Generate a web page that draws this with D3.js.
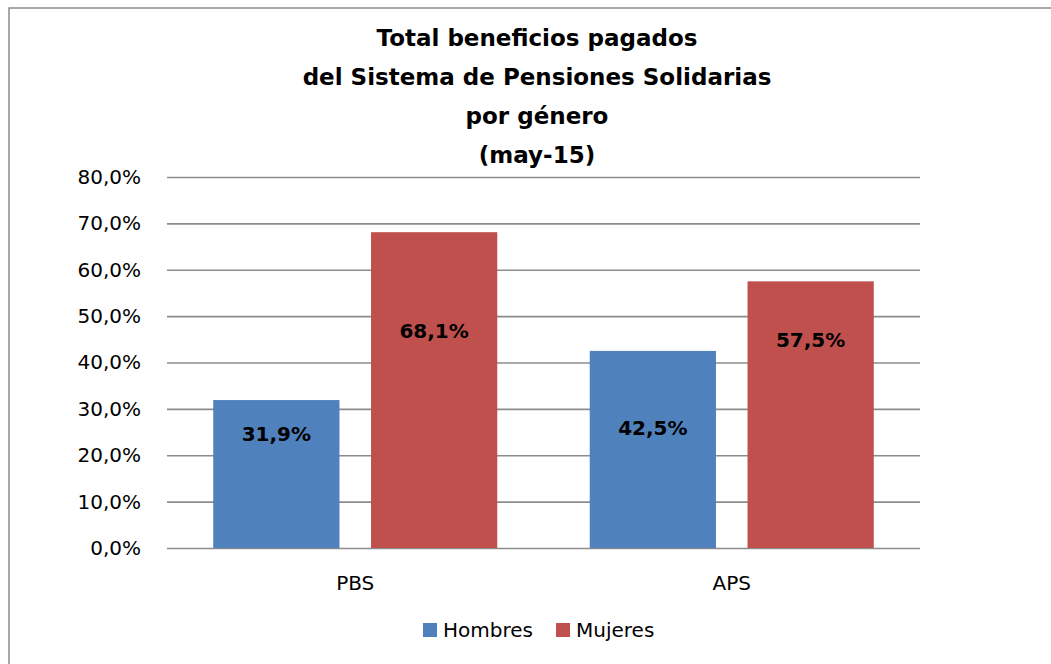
<!DOCTYPE html>
<html>
<head>
<meta charset="utf-8">
<script src="https://cdn.jsdelivr.net/npm/d3@7"></script>
<style>
  body { margin: 0; background: #fff; }
  svg { display: block; font-family: "DejaVu Sans", sans-serif; }
</style>
</head>
<body>
<svg width="1051" height="664"></svg>
<script>
// data
const categories = ["PBS", "APS"];
const series = ["Hombres", "Mujeres"];
const hombres = [31.9, 42.5];
const mujeres = [68.1, 57.5];
const yTicks = [0, 10, 20, 30, 40, 50, 60, 70, 80];
const titleLines = ["Total beneficios pagados", "del Sistema de Pensiones Solidarias", "por género", "(may-15)"];
// where the value labels sit inside each bar (label centre, in axis units)
const labelAt = { Hombres: [24.6, 25.8], Mujeres: [46.8, 44.9] };

const colors = { Hombres: "#4F81BD", Mujeres: "#C0504D" };

const svg = d3.select("svg"),
    width = +svg.attr("width"),
    height = +svg.attr("height");

const plot = { left: 167, right: 920, top: 177, bottom: 548 };

// outer frame (runs off the right and bottom edge)
svg.append("rect")
    .attr("x", 9).attr("y", 8)
    .attr("width", width + 20).attr("height", height + 20)
    .attr("fill", "none")
    .attr("stroke", "#8c8c8c")
    .attr("stroke-width", 1.5);

const x0 = d3.scaleBand()
    .domain(categories)
    .range([plot.left, plot.right]);

const x1 = d3.scaleBand()
    .domain(series)
    .range([0, x0.bandwidth()])
    .paddingInner(0.2)
    .paddingOuter(0.293);

const y = d3.scaleLinear()
    .domain([0, 80])
    .range([plot.bottom, plot.top]);

const fmt = v => d3.format(".1f")(v).replace(".", ",") + "%";

// gridlines + y labels
const yAxis = svg.append("g")
    .attr("transform", `translate(${plot.left},0)`)
    .call(d3.axisLeft(y).tickValues(yTicks).tickFormat(fmt)
        .tickSize(-(plot.right - plot.left)).tickPadding(26));
yAxis.select(".domain").remove();
yAxis.selectAll(".tick line")
    .attr("stroke", "#8c8c8c")
    .attr("stroke-width", 1.6);
yAxis.selectAll(".tick text")
    .attr("font-family", "DejaVu Sans, sans-serif")
    .attr("font-size", 20)
    .attr("fill", "#000");

// bars
const rows = [];
categories.forEach((c, i) => {
    rows.push({ cat: c, s: "Hombres", v: hombres[i], lab: labelAt.Hombres[i] });
    rows.push({ cat: c, s: "Mujeres", v: mujeres[i], lab: labelAt.Mujeres[i] });
});

const bars = svg.append("g");
bars.selectAll("rect")
    .data(rows)
    .enter()
    .append("rect")
    .attr("x", d => x0(d.cat) + x1(d.s))
    .attr("y", d => y(d.v))
    .attr("width", x1.bandwidth())
    .attr("height", d => y(0) - y(d.v))
    .attr("fill", d => colors[d.s]);

// value labels
bars.selectAll("text")
    .data(rows)
    .enter()
    .append("text")
    .attr("x", d => x0(d.cat) + x1(d.s) + x1.bandwidth() / 2)
    .attr("y", d => y(d.lab))
    .attr("dy", "0.35em")
    .attr("text-anchor", "middle")
    .attr("font-size", 20)
    .attr("font-weight", "bold")
    .text(d => fmt(d.v));

// x labels
svg.append("g")
    .selectAll("text")
    .data(categories)
    .enter()
    .append("text")
    .attr("x", d => x0(d) + x0.bandwidth() / 2)
    .attr("y", 583)
    .attr("dy", "0.35em")
    .attr("text-anchor", "middle")
    .attr("font-size", 20)
    .text(d => d);

// title
svg.append("text")
    .attr("text-anchor", "middle")
    .attr("font-size", 23)
    .attr("font-weight", "bold")
    .selectAll("tspan")
    .data(titleLines)
    .enter()
    .append("tspan")
    .attr("x", 537)
    .attr("y", (d, i) => 46 + i * 39)
    .text(d => d);

// legend
const legend = svg.append("g")
    .selectAll("g")
    .data(series)
    .enter()
    .append("g")
    .attr("transform", (d, i) => `translate(${i ? 556 : 423},623)`);
legend.append("rect")
    .attr("width", 14).attr("height", 14)
    .attr("fill", d => colors[d]);
legend.append("text")
    .attr("x", 20).attr("y", 7)
    .attr("dy", "0.35em")
    .attr("font-size", 20)
    .text(d => d);
</script>
</body>
</html>
